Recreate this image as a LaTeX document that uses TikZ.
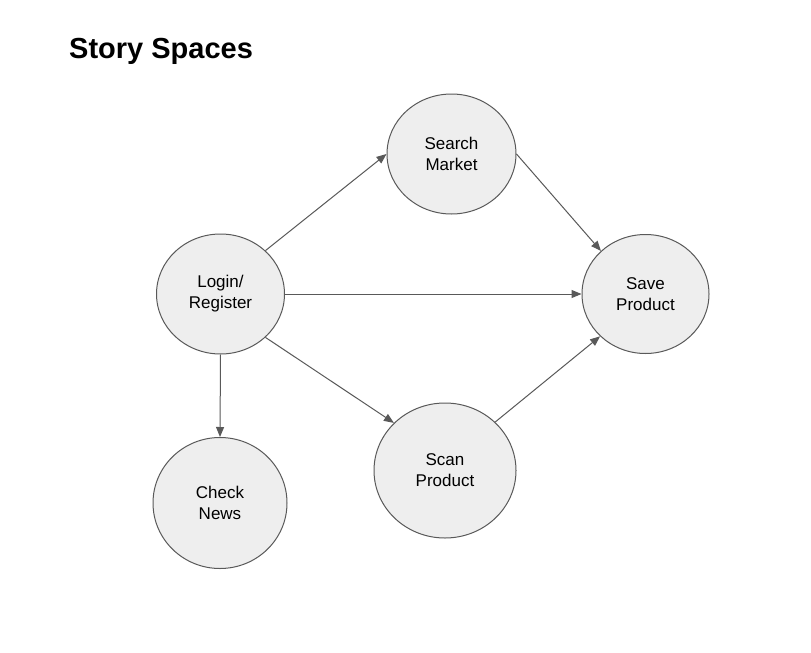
\documentclass[tikz,border=0pt]{standalone}
\usepackage{fontspec}
\setmainfont{Liberation Sans}
\usetikzlibrary{shapes.geometric,arrows.meta}
\definecolor{linegray}{HTML}{595959}
\definecolor{nodefill}{HTML}{EEEEEE}
\tikzset{
  story/.style={ellipse, draw=linegray, fill=nodefill, line width=1pt, inner sep=0pt,
    align=center, font=\fontsize{17}{21}\selectfont},
  conn/.style={draw=linegray, line width=1pt, -{Triangle[length=10pt,width=8pt]}}
}
\begin{document}
\begin{tikzpicture}[x=1pt,y=-1pt]
\path[use as bounding box, fill=white] (0,0) rectangle (811,653);
\node[anchor=base west, inner sep=0pt, font=\fontsize{29}{33}\selectfont\bfseries] (title) at (69,58) {Story Spaces};
\node[story, minimum width=129pt, minimum height=120pt] (sm) at (451.5,154) {Search\\Market};
\node[story, minimum width=128pt, minimum height=120pt] (lr) at (220.5,294) {Login/\\Register};
\node[story, minimum width=127pt, minimum height=119pt] (sp) at (645.5,294) {Save\\Product};
\node[story, minimum width=134pt, minimum height=131pt] (cn) at (220,503) {Check\\News};
\node[story, minimum width=142pt, minimum height=135pt] (scp) at (445,470.5) {Scan\\Product};
\draw[conn] (lr.44) -- (sm.west);
\draw[conn] (sm.east) -- (sp.136);
\draw[conn] (lr.east) -- (sp.west);
\draw[conn] (lr.-44) -- (scp.137);
\draw[conn] (scp.44) -- (sp.223);
\draw[conn] (lr.south) -- (cn.north);
\end{tikzpicture}
\end{document}
